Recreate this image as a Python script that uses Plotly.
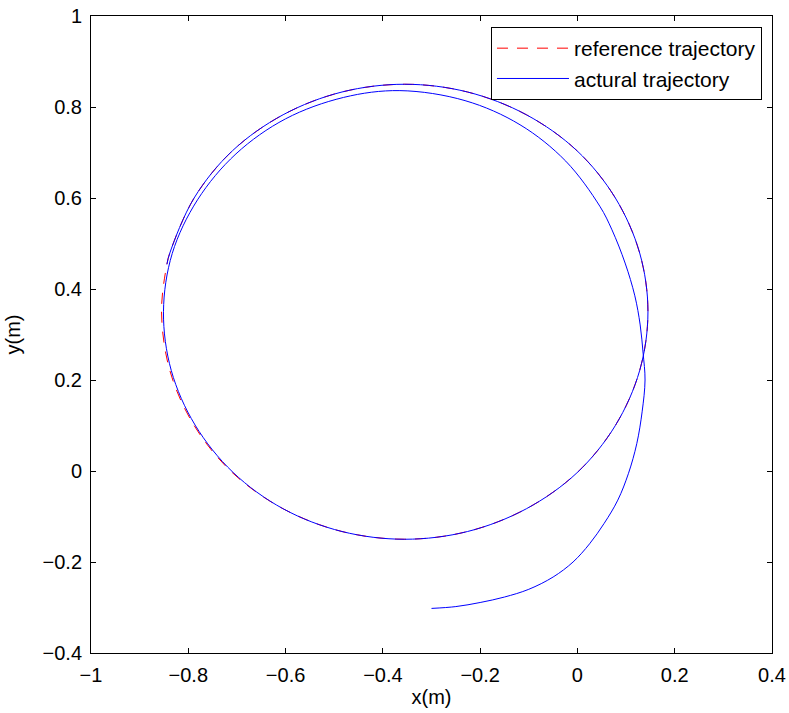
import plotly.graph_objects as go

# Reference trajectory (circle)
ref_x = [-0.844, -0.855, -0.838, -0.788, -0.709, -0.605, -0.484, -0.355, -0.226, -0.105,
         -0.001, 0.078, 0.128, 0.145, 0.128, 0.078, -0.001, -0.105, -0.226, -0.355,
         -0.484, -0.605, -0.709, -0.788, -0.838, -0.844]
ref_y = [0.454, 0.350, 0.221, 0.100, -0.004, -0.083, -0.133, -0.150, -0.133, -0.083,
         -0.004, 0.100, 0.221, 0.350, 0.479, 0.600, 0.704, 0.783, 0.833, 0.850,
         0.833, 0.783, 0.704, 0.600, 0.479, 0.454]

act_x = [-0.300, -0.250, -0.200, -0.150, -0.100, -0.050, -0.009, 0.025, 0.055, 0.083,
         0.105, 0.122, 0.133, 0.139, 0.135, 0.129, 0.118, 0.098, 0.071, 0.046,
         -0.024, -0.118, -0.231, -0.365, -0.481, -0.600, -0.702, -0.781, -0.833, -0.851,
         -0.835, -0.786, -0.708, -0.605, -0.484, -0.355, -0.226, -0.105,
         -0.001, 0.078, 0.128, 0.145, 0.128, 0.078, -0.001, -0.105, -0.226, -0.355,
         -0.484, -0.605, -0.709, -0.788, -0.838, -0.844]
act_y = [-0.302, -0.298, -0.289, -0.277, -0.260, -0.233, -0.200, -0.160, -0.115, -0.064,
         -0.005, 0.060, 0.130, 0.200, 0.259, 0.321, 0.385, 0.457, 0.530, 0.582,
         0.681, 0.761, 0.814, 0.836, 0.821, 0.774, 0.697, 0.596, 0.478, 0.350,
         0.221, 0.101, -0.003, -0.083, -0.133, -0.150, -0.133, -0.083,
         -0.004, 0.100, 0.221, 0.350, 0.479, 0.600, 0.704, 0.783, 0.833, 0.850,
         0.833, 0.783, 0.704, 0.600, 0.479, 0.454]

x_ticks = [-1, -0.8, -0.6, -0.4, -0.2, 0, 0.2, 0.4]
x_labels = ["\u22121", "\u22120.8", "\u22120.6", "\u22120.4", "\u22120.2", "0", "0.2", "0.4"]
y_ticks = [-0.4, -0.2, 0, 0.2, 0.4, 0.6, 0.8, 1]
y_labels = ["\u22120.4", "\u22120.2", "0", "0.2", "0.4", "0.6", "0.8", "1"]

fig = go.Figure()
fig.add_trace(go.Scatter(x=ref_x, y=ref_y, mode="lines", name="reference trajectory",
                         line=dict(color="#ff0000", width=1, dash="11px,9px", shape="spline")))
fig.add_trace(go.Scatter(x=act_x, y=act_y, mode="lines", name="actural trajectory",
                         line=dict(color="#0000ff", width=1, shape="spline")))

font = dict(family="Liberation Sans, Arial, sans-serif", size=20, color="black")
legend_font = dict(family="Liberation Sans, Arial, sans-serif", size=21, color="black")
axis_common = dict(showgrid=False, zeroline=False, showline=True, linecolor="black",
                   linewidth=1, mirror="allticks", ticks="inside", ticklen=5,
                   tickcolor="black", tickfont=font, ticklabeloverflow="allow",
                   automargin=False)

fig.update_layout(
    width=789, height=713,
    margin=dict(l=91, r=17, t=16, b=60),
    plot_bgcolor="white", paper_bgcolor="white",
    font=font,
    xaxis=dict(range=[-1, 0.4], tickvals=x_ticks, ticktext=x_labels,
               ticklabelstandoff=4,
               title=dict(text="x(m)", font=font, standoff=4), **axis_common),
    yaxis=dict(range=[-0.4, 1], tickvals=y_ticks, ticktext=y_labels,
               ticklabelstandoff=4,
               title=dict(text="y(m)", font=font, standoff=16), **axis_common),
    legend=dict(x=0.9853, y=0.9827, xanchor="right", yanchor="top",
                bordercolor="black", borderwidth=1, bgcolor="white",
                font=legend_font, tracegroupgap=0, itemwidth=72),
    showlegend=True,
)

fig.write_html("out.html", config={"displayModeBar": False},
               post_script="document.body.style.margin='0px';")
